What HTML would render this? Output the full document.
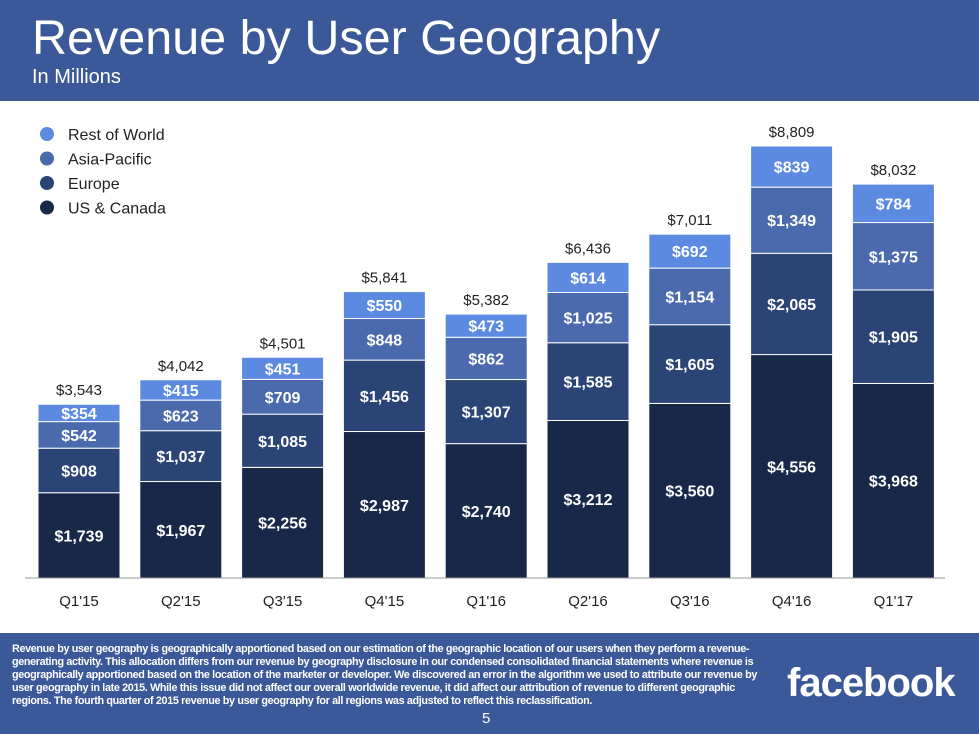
<!DOCTYPE html>
<html><head><meta charset="utf-8"><style>
body{margin:0;width:979px;height:734px;overflow:hidden;background:#fff;font-family:"Liberation Sans",Arial,sans-serif;position:relative}
#hdr{position:absolute;left:0;top:0;width:979px;height:101px;background:#3b5998}
#title{position:absolute;left:32px;top:10px;color:#fff;font-size:48.5px}
#sub{position:absolute;left:32px;top:66px;color:#fff;font-size:20px}
#ftr{position:absolute;left:0;top:633px;width:979px;height:101px;background:#3b5998}
#note{position:absolute;left:12px;top:10px;width:756px;color:#fff;font-size:10.8px;line-height:13px;font-weight:bold;letter-spacing:-0.35px}
#pg{position:absolute;left:482px;top:77px;color:#fff;font-size:15px}
#fb{position:absolute;left:787px;top:28px;color:#fff;font-size:40px;font-weight:bold;letter-spacing:-1px}
</style></head><body>
<div id="hdr">
<div id="title">Revenue by User Geography</div>
<div id="sub">In Millions</div></div>
<svg id="chart" width="979" height="734" style="position:absolute;left:0;top:0"></svg>
<div id="ftr">
<div id="note">Revenue by user geography is geographically apportioned based on our estimation of the geographic location of our users when they perform a revenue-generating activity. This allocation differs from our revenue by geography disclosure in our condensed consolidated financial statements where revenue is geographically apportioned based on the location of the marketer or developer. We discovered an error in the algorithm we used to attribute our revenue by user geography in late 2015. While this issue did not affect our overall worldwide revenue, it did affect our attribution of revenue to different geographic regions. The fourth quarter of 2015 revenue by user geography for all regions was adjusted to reflect this reclassification.</div>
<div id="pg">5</div>
<div id="fb">facebook</div></div>
<script>
const categories=["Q1'15","Q2'15","Q3'15","Q4'15","Q1'16","Q2'16","Q3'16","Q4'16","Q1'17"];
const usCanada=[1739,1967,2256,2987,2740,3212,3560,4556,3968];
const europe=[908,1037,1085,1456,1307,1585,1605,2065,1905];
const asiaPacific=[542,623,709,848,862,1025,1154,1349,1375];
const restOfWorld=[354,415,451,550,473,614,692,839,784];
const totals=[3543,4042,4501,5841,5382,6436,7011,8809,8032];
const seriesNames=["US & Canada","Europe","Asia-Pacific","Rest of World"];
const colors=["#172848","#2b4476","#4a6aad","#5b8ae0"];
const NS="http://www.w3.org/2000/svg",svg=document.getElementById('chart');
const base=578,scale=432/8809,x0=79,step=101.8,bw=82;
const y=v=>base-v*scale, xc=i=>x0+i*step;
const fmt=v=>'$'+v.toLocaleString('en-US');
function mk(t,a,txt){const e=document.createElementNS(NS,t);for(const k in a)e.setAttribute(k,a[k]);if(txt!=null)e.textContent=txt;svg.appendChild(e);return e;}
const series=[usCanada,europe,asiaPacific,restOfWorld];
categories.forEach((c,i)=>{
 let cum=0;
 series.forEach((s,j)=>{
  const v=s[i];
  const r=mk('rect',{x:xc(i)-bw/2,y:y(cum+v),width:bw,height:v*scale,fill:colors[j],stroke:'#fff','stroke-width':1});
  
  
  const t=mk('text',{x:xc(i),y:y(cum+v/2)+6,'text-anchor':'middle',fill:'#fff','font-size':16,'font-weight':'bold'},fmt(v));
  
  
  cum+=v;
 });
 const tt=mk('text',{x:xc(i),y:y(totals[i])-9,'text-anchor':'middle',fill:'#222','font-size':15},fmt(totals[i]));
 
 
 const xl=mk('text',{x:xc(i),y:base+28,'text-anchor':'middle',fill:'#222','font-size':15},c);
 
 
});
const ax=mk('line',{x1:25,x2:945,y1:base,y2:base,stroke:'#999','stroke-width':1});


[3,2,1,0].forEach((j,k)=>{
 const yy=134+k*24.5;
 const c=mk('circle',{cx:47,cy:yy,r:7,fill:colors[j]});
 
 
 const t=mk('text',{x:68,y:yy+6,fill:'#222','font-size':16},seriesNames[j]);
 
 
});
</script>
</body></html>
